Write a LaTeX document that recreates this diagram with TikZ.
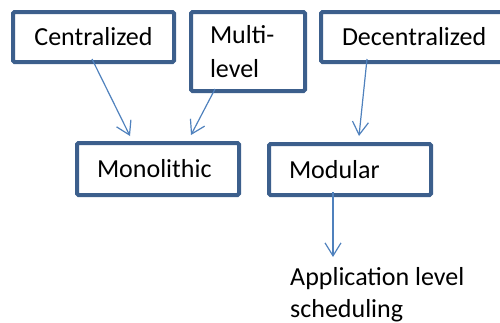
\documentclass[tikz,border=0pt]{standalone}
\usepackage{fontspec}
\setmainfont{Carlito}
\usetikzlibrary{arrows.meta,positioning}
\definecolor{boxblue}{RGB}{60,95,140}
\definecolor{arrowblue}{RGB}{79,129,189}

\begin{document}
\begin{tikzpicture}[x=1pt,y=-1pt,
    box/.style={draw=boxblue,line width=4pt,rounded corners=1.5pt,fill=white,
      font=\fontsize{26}{34}\selectfont,inner sep=0pt},
    link/.style={draw=arrowblue,line width=1.2pt,-{Straight Barb[length=13pt,width=16pt,line width=1.2pt]}}]
  \useasboundingbox (0,0) rectangle (500,322);

  % top row
  \node[box,minimum width=161,minimum height=50] (cent) at (93.5,37) {Centralized};
  \node[box,minimum width=114,minimum height=79,text width=76,align=left] (multi) at (248,51.5) {Multi-\\level};
  \node[box,minimum width=194,minimum height=50,text width=152,align=left] (dec) at (418,37) {Decentralized};

  % second row
  \node[box,minimum width=162,minimum height=52,text width=122,align=left] (mono) at (158,169) {Monolithic};
  \node[box,minimum width=162,minimum height=51,text width=122,align=left] (modu) at (350,169.5) {Modular};

  \node[anchor=north west,inner sep=0pt,align=left,font=\fontsize{26}{32}\selectfont] (app) at (290,267) {Application level\\scheduling};

  \draw[link] ([shift={(-1.5,-5)}]cent.south) -- ([shift={(-28,-5)}]mono.north);
  \draw[link] ([shift={(-33,-4)}]multi.south) -- ([shift={(33,-6)}]mono.north);
  \draw[link] ([shift={(48,-5)}]dec.south west) -- ([shift={(9,-6)}]modu.north);
  \draw[link] ([shift={(-17,-5)}]modu.south) -- ([shift={(43,-10)}]app.north west);
\end{tikzpicture}
\end{document}
